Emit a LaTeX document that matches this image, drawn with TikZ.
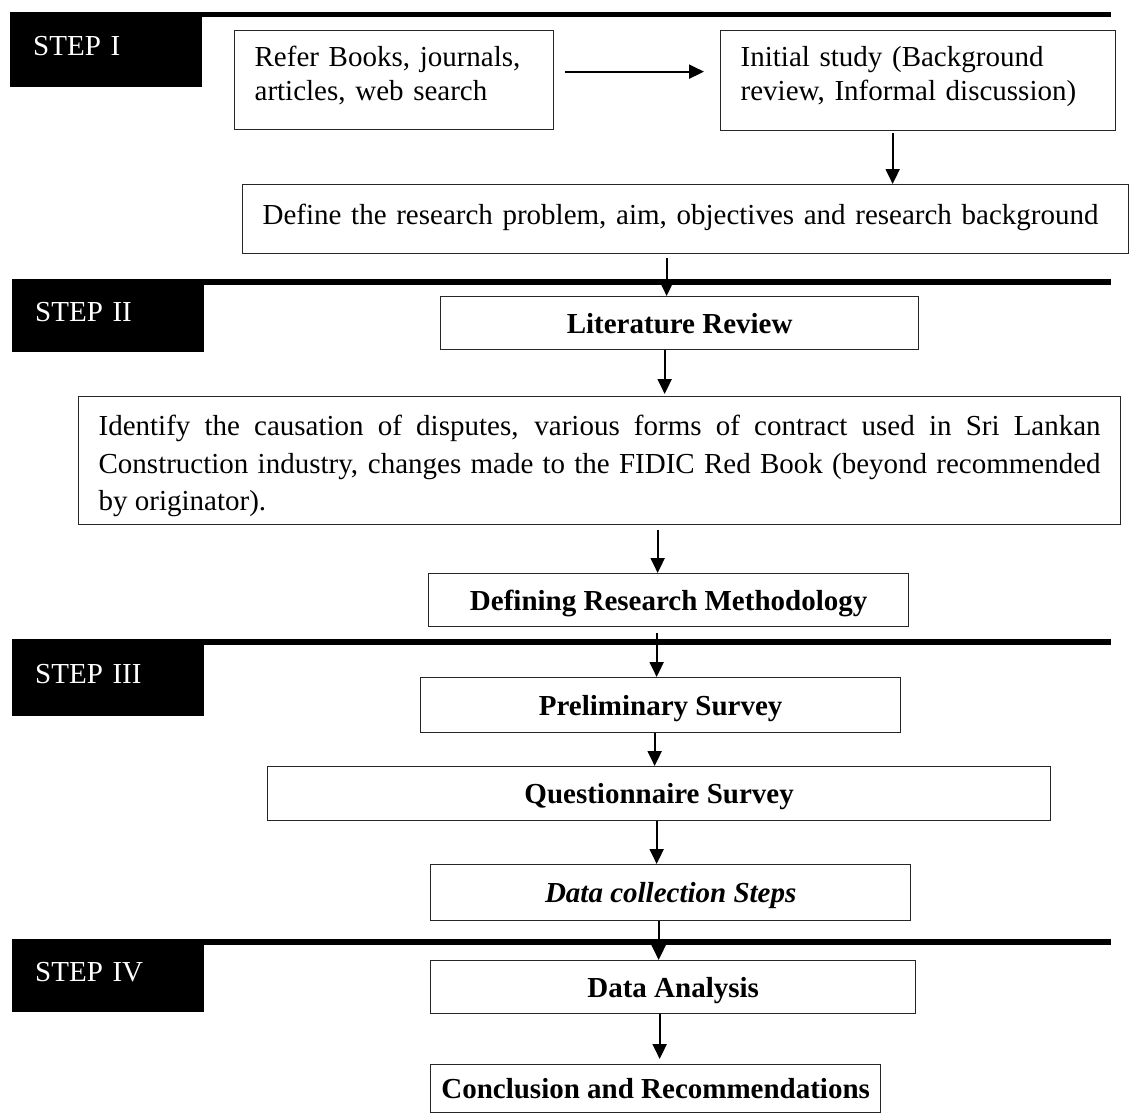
\documentclass[tikz,border=0pt]{standalone}
\usepackage{fontspec}
\setmainfont{Liberation Serif}
\usetikzlibrary{arrows.meta}
\newcommand{\bodyfont}{\fontsize{29}{34}\selectfont}
\begin{document}
\begin{tikzpicture}[x=1pt,y=-1pt,
  every node/.style={font=\bodyfont},
  frame/.style={draw=black!85, line width=1.3pt, anchor=north west, inner sep=0pt},
  oneline/.style={frame, text height=20pt, text depth=0pt, font=\bodyfont\bfseries},
  twoline/.style={frame, align=left, inner xsep=20pt},
  stepbox/.style={fill=black, text=white, anchor=north west, inner xsep=23pt, inner ysep=0pt,
    text width=146pt, align=left, minimum width=192pt, text height=20pt, text depth=9pt},
  bar/.style={line width=5.5pt},
  arr/.style={line width=2pt, -{Triangle[length=15pt,width=14pt]}},
]
\useasboundingbox (0,0) rectangle (1134,1113);

% step labels
\node[stepbox, minimum height=75pt] (S1) at (10,12) {STEP I};
\node[stepbox, minimum height=73pt] (S2) at (12,279) {STEP II};
\node[stepbox, minimum height=77pt] (S3) at (12,639) {STEP III};
\node[stepbox, minimum height=73pt] (S4) at (12,939) {STEP IV};

% heavy rules running from each step label
\coordinate (barend) at (1111,0);
\foreach \s in {S1,S2,S3,S4}{
  \path ([yshift=-2.75pt]\s.north west) coordinate (b\s);
  \draw[bar] (b\s) -- (b\s -| barend);
}

% process boxes
\node[twoline, text width=279pt, minimum height=99pt] (B1) at (234,30)
  {Refer Books, journals,\\articles, web search\rule[-14pt]{0pt}{14pt}};
\node[twoline, text width=355pt, minimum height=100pt] (B2) at (720,30)
  {Initial study (Background\\review, Informal discussion)\rule[-14pt]{0pt}{14pt}};
\node[frame, align=left, inner xsep=20pt, text width=846pt, minimum height=69pt,
  text height=20pt, text depth=10pt] (B3) at (242,184)
  {Define the research problem, aim, objectives and research background};
\node[oneline, minimum width=478pt, minimum height=53pt] (B4) at (440,296) {Literature Review};
\node[frame, align=justify, inner xsep=20pt, text width=1002pt, minimum height=128pt,
  font=\fontsize{29}{37.5}\selectfont] (B5) at (78,396)
  {\rule{0pt}{31pt}Identify the causation of disputes, various forms of contract used in Sri Lankan\linebreak
   Construction industry, changes made to the FIDIC Red Book (beyond recommended\linebreak
   by originator).};
\node[oneline, minimum width=480pt, minimum height=53pt] (B6) at (428,573) {Defining Research Methodology};
\node[oneline, minimum width=480pt, minimum height=55pt] (B7) at (420,677) {Preliminary Survey};
\node[oneline, minimum width=783pt, minimum height=54pt] (B8) at (267,766) {Questionnaire Survey};
\node[oneline, minimum width=480pt, minimum height=56pt, font=\bodyfont\bfseries\itshape] (B9) at (430,864) {Data collection Steps};
\node[oneline, minimum width=485pt, minimum height=53pt] (B10) at (430,960) {Data Analysis};
\node[oneline, minimum width=450pt, minimum height=48pt] (B11) at (430,1064) {Conclusion and Recommendations};

% connectors
\path ([yshift=8.5pt]B1.east) coordinate (a12);
\draw[arr, shorten <=11pt, shorten >=16pt] (a12) -- (a12 -| B2.west);
\path ([xshift=-25.5pt]B2.south) coordinate (a23);
\draw[arr, shorten <=2pt] (a23) -- (a23 |- B3.north);
\path ([xshift=-19pt]B3.south) coordinate (a34);
\draw[arr, shorten <=4pt] (a34) -- (a34 |- B4.north);
\path ([xshift=-15pt]B4.south) coordinate (a45);
\draw[arr, shorten >=2pt] (a45) -- (a45 |- B5.north);
\path ([xshift=58pt]B5.south) coordinate (a56);
\draw[arr, shorten <=5pt] (a56) -- (a56 |- B6.north);
\path ([xshift=-12pt]B6.south) coordinate (a67);
\draw[arr, shorten <=6pt] (a67) -- (a67 |- B7.north);
\path ([xshift=-6pt]B7.south) coordinate (a78);
\draw[arr] (a78) -- (a78 |- B8.north);
\path ([xshift=-2.5pt]B8.south) coordinate (a89);
\draw[arr] (a89) -- (a89 |- B9.north);
\path ([xshift=-12pt]B9.south) coordinate (a910);
\draw[arr] (a910) -- (a910 |- B10.north);
\path ([xshift=-13.5pt]B10.south) coordinate (a1011);
\draw[arr, shorten >=5pt] (a1011) -- (a1011 |- B11.north);
\end{tikzpicture}
\end{document}
